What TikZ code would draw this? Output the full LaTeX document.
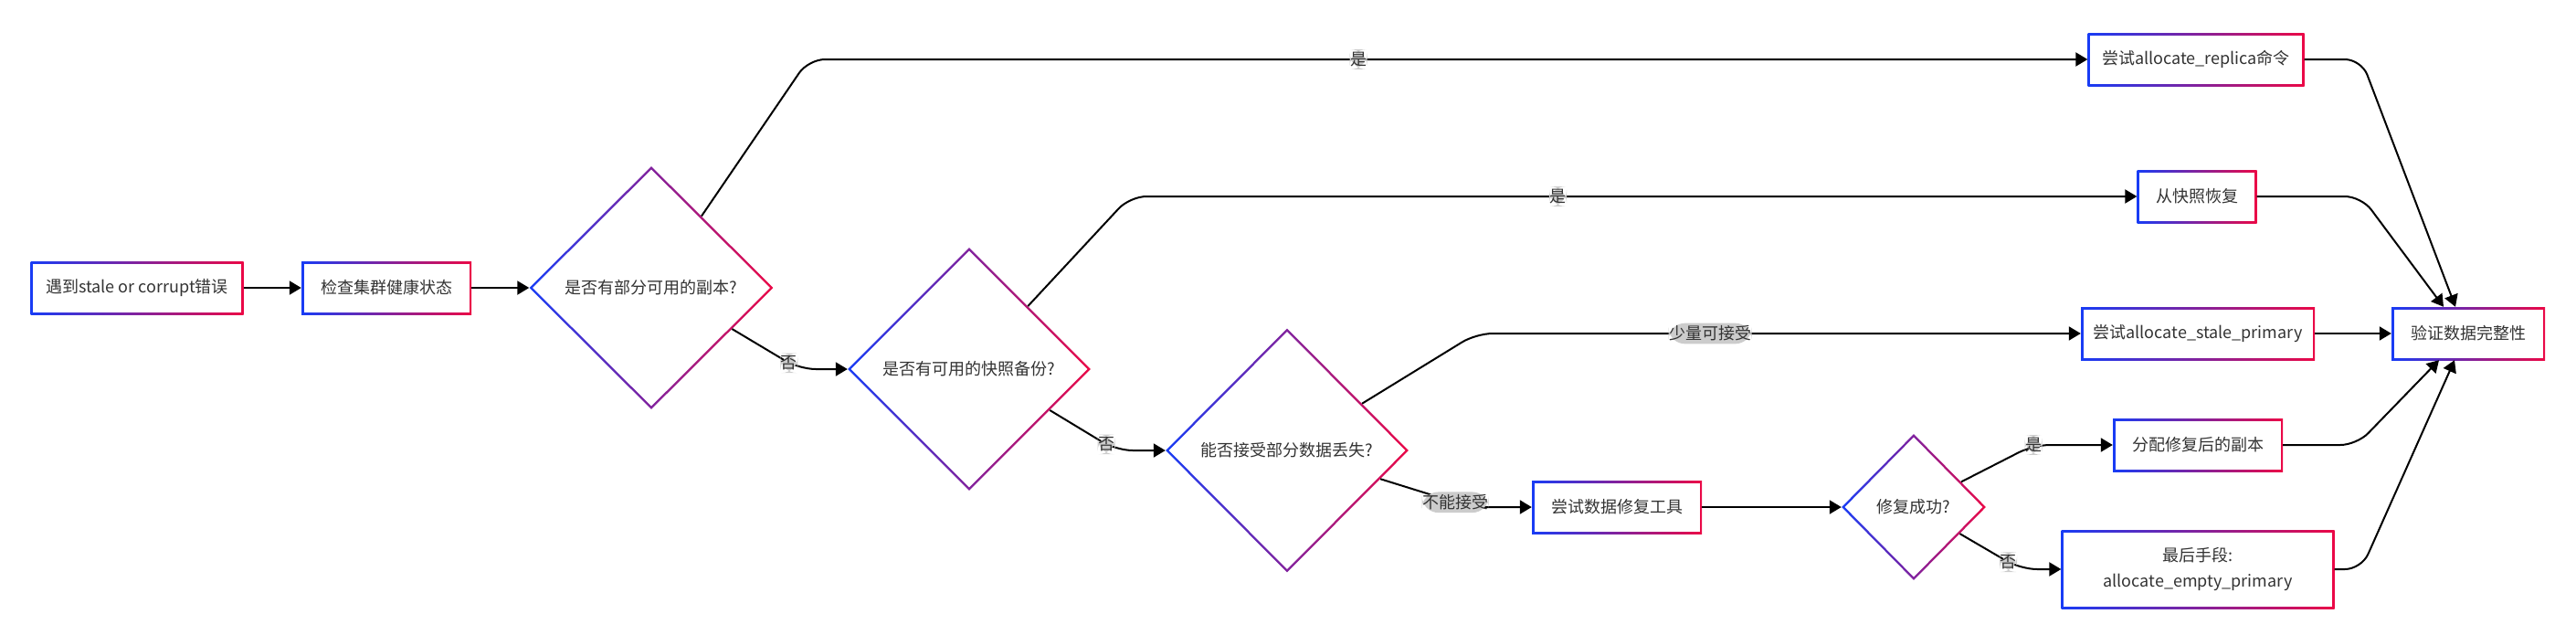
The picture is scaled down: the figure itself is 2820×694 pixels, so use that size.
\documentclass[tikz,border=0pt]{standalone}
\usepackage{fontspec}
\setmainfont{Noto Sans CJK SC}
\usetikzlibrary{arrows.meta,shapes.geometric}

\definecolor{gblue}{RGB}{24,60,245}
\definecolor{gred}{RGB}{235,8,70}
\definecolor{txtgray}{RGB}{51,51,51}
\definecolor{lblgray}{RGB}{204,204,204}

\tikzset{
  nodefont/.style={font=\fontsize{18}{28}\selectfont, text=txtgray},
  procbox/.style={rectangle, nodefont, inner sep=0pt, minimum height=58pt, align=center,
    path picture={
      \shade[left color=gblue, right color=gred] (path picture bounding box.south west) rectangle (path picture bounding box.north east);
      \fill[white] ([shift={(2.5pt,2.5pt)}]path picture bounding box.south west) rectangle ([shift={(-2.5pt,-2.5pt)}]path picture bounding box.north east);
    }},
  decision/.style={diamond, nodefont, inner sep=0pt,
    path picture={
      \shade[left color=gblue, right color=gred] (path picture bounding box.south west) rectangle (path picture bounding box.north east);
      \fill[white] ([yshift=-3.5pt]path picture bounding box.north) -- ([xshift=-3.5pt]path picture bounding box.east)
        -- ([yshift=3.5pt]path picture bounding box.south) -- ([xshift=3.5pt]path picture bounding box.west) -- cycle;
    }},
  flow/.style={line width=2pt, -{Triangle[length=13pt,width=15pt]}, rounded corners=18pt},
  lbl/.style={fill=lblgray, nodefont, inner xsep=0.5pt, inner ysep=3pt},
}

\begin{document}
\begin{tikzpicture}[x=1pt,y=-1pt]
  \useasboundingbox (0,0) rectangle (2820,694);

  \node[procbox, minimum width=233pt] (err) at (150,315) {遇到stale or corrupt错误};
  \node[procbox, minimum width=186pt] (check) at (423,315) {检查集群健康状态};
  \node[decision, minimum width=267pt, minimum height=266pt] (dRep) at (713,315) {是否有部分可用的副本?};
  \node[decision, minimum width=266pt, minimum height=266pt] (dSnap) at (1061,404) {是否有可用的快照备份?};
  \node[decision, minimum width=266pt, minimum height=267pt] (dLoss) at (1409,493) {能否接受部分数据丢失?};
  \node[procbox, minimum width=186pt] (tool) at (1770,555) {尝试数据修复工具};
  \node[decision, minimum width=158pt, minimum height=160pt] (dFix) at (2095,555) {修复成功?};

  \node[procbox, minimum width=237pt] (replica) at (2404,65) {尝试allocate\_replica命令};
  \node[procbox, minimum width=131pt] (snap) at (2405,215) {从快照恢复};
  \node[procbox, minimum width=256pt] (stale) at (2406,365) {尝试allocate\_stale\_primary};
  \node[procbox, minimum width=186pt] (fixed) at (2406,487) {分配修复后的副本};
  \node[procbox, minimum width=299pt, minimum height=86pt] (empty) at (2406,623) {最后手段:\\allocate\_empty\_primary};
  \node[procbox, minimum width=168pt] (verify) at (2702,365) {验证数据完整性};

  \draw[flow] (err) -- (check);
  \draw[flow] (check) -- (dRep);

  \draw[flow] (dRep.55) -- (885,65) -- node[lbl, pos=0.43] {是} (replica);
  \draw[flow] (dRep.-27) -- node[lbl, pos=0.85] {否} (875,404) -- (dSnap.west);
  \draw[flow] (dSnap.47) -- (1237,215) -- node[lbl, pos=0.425] {是} (snap);
  \draw[flow] (dSnap.-27) -- node[lbl, pos=0.85] {否} (1222,493) -- (dLoss.west);
  \draw[flow] (dLoss.32) -- (1616,365) -- node[lbl, pos=0.387] {少量可接受} (stale);
  \draw[flow] (dLoss.-17) -- node[lbl, pos=0.83] {不能接受} (1610,555) -- (tool.west);
  \draw[flow] (tool) -- (dFix);
  \draw[flow] (dFix.28) -- (2226,487) node[lbl] {是} -- (fixed);
  \draw[flow] (dFix.-30) -- node[lbl, pos=0.8] {否} (2212,623) -- (empty.west);

  \draw[flow] (replica) -- (2585,65) -- ([xshift=-14pt]verify.north);
  \draw[flow] (snap) -- (2585,215) -- ([xshift=-27pt]verify.north);
  \draw[flow] (stale) -- (verify);
  \draw[flow] (fixed) -- (2580,487) -- ([xshift=-32pt]verify.south);
  \draw[flow] (empty) -- (2585,623) -- ([xshift=-15pt]verify.south);
\end{tikzpicture}
\end{document}
